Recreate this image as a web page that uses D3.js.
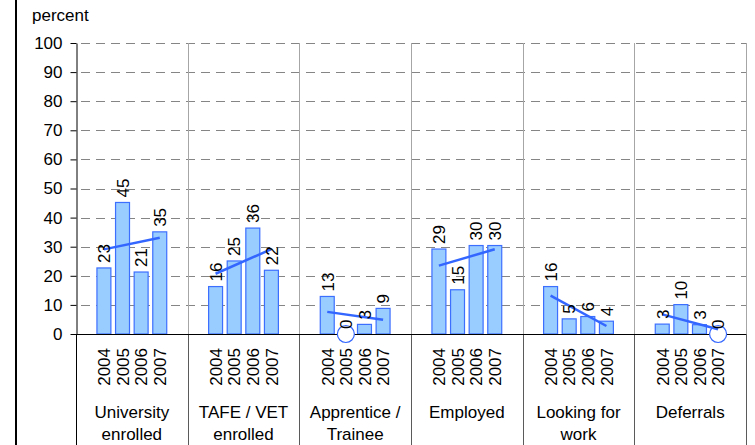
<!DOCTYPE html>
<html>
<head>
<meta charset="utf-8">
<script src="https://cdn.jsdelivr.net/npm/d3@7/dist/d3.min.js"></script>
<style>
  html, body { margin: 0; padding: 0; background: #fff; }
  svg { display: block; font-family: "Liberation Sans", Arial, sans-serif; }
</style>
</head>
<body>
<svg id="chart" width="755" height="445"></svg>
<script>
// Destinations of school leavers, share (%) by year
const groupLabels = [
  ["University", "enrolled"],
  ["TAFE / VET", "enrolled"],
  ["Apprentice /", "Trainee"],
  ["Employed"],
  ["Looking for", "work"],
  ["Deferrals"]
];
const years = ["2004", "2005", "2006", "2007"];

const university = [22.7, 45.2, 21.3, 35.1];
const tafeVet    = [16.3, 25.1, 36.4, 21.9];
const apprentice = [12.9, 0,    3.3,  8.8];
const employed   = [29.2, 15.2, 30.4, 30.4];
const looking    = [16.3, 5.2,  6.0,  4.4];
const deferrals  = [3.4,  10.1, 3.2,  0];
const seriesByGroup = [university, tafeVet, apprentice, employed, looking, deferrals];

const yTicks = [0, 10, 20, 30, 40, 50, 60, 70, 80, 90, 100];

const W = 755, H = 445;
const plotLeft = 76, plotRight = 746, plotTop = 43, plotBase = 334;
const FONT = 17;
const barFill = "#99ccff", barStroke = "#3d6fff", trendColor = "#3366ff";

const svg = d3.select("#chart");
svg.append("rect").attr("width", W).attr("height", H).attr("fill", "#fff");

const groupKeys = groupLabels.map(d => d.join(" "));
const x0 = d3.scaleBand().domain(groupKeys).range([plotLeft, plotRight]).padding(0);
// one empty slot before and after the four years in each group
const x1 = d3.scaleBand().domain(["pre", ...years, "post"]).range([0, x0.bandwidth()]).padding(0);
const barW = x1.bandwidth() * 0.75;
const y = d3.scaleLinear().domain([0, 100]).range([plotBase, plotTop]);

// frame line on the left
svg.append("line").attr("x1", 16).attr("x2", 16).attr("y1", 0).attr("y2", H)
  .attr("stroke", "#000").attr("stroke-width", 2);

// horizontal dashed gridlines
svg.append("g").selectAll("line").data(yTicks.filter(t => t > 0)).join("line")
  .attr("x1", plotLeft).attr("x2", plotRight)
  .attr("y1", d => Math.round(y(d)) + 0.5).attr("y2", d => Math.round(y(d)) + 0.5)
  .attr("stroke", "#858585").attr("stroke-width", 1)
  .attr("stroke-dasharray", "9,6").attr("stroke-dashoffset", -5);

// vertical group separators inside the plot
const bounds = groupKeys.map(k => x0(k)).concat([plotRight]);
svg.append("g").selectAll("line").data(bounds.slice(1)).join("line")
  .attr("x1", d => Math.round(d) + 0.5).attr("x2", d => Math.round(d) + 0.5)
  .attr("y1", plotTop).attr("y2", plotBase)
  .attr("stroke", "#a6a6a6").attr("stroke-width", 1);

// separators below the category axis
svg.append("g").selectAll("line").data(bounds).join("line")
  .attr("x1", d => Math.round(d) + 0.5).attr("x2", d => Math.round(d) + 0.5)
  .attr("y1", plotBase).attr("y2", H)
  .attr("stroke", (d, i) => i === 0 ? "#000" : "#5a5a5a").attr("stroke-width", 1);

// y axis
const yAxis = svg.append("g").attr("transform", `translate(${plotLeft + 0.5},0)`)
  .call(d3.axisLeft(y).tickValues(yTicks).tickSize(6).tickSizeOuter(0).tickPadding(8));
yAxis.select(".domain").attr("stroke", "#000");
yAxis.selectAll(".tick line").attr("stroke", "#000");
yAxis.selectAll(".tick text")
  .attr("font-size", FONT).attr("font-family", "Liberation Sans, Arial, sans-serif")
  .attr("fill", "#000");

// unit label
svg.append("text").attr("x", 32).attr("y", 21).attr("font-size", FONT).attr("fill", "#000")
  .text("percent");

// rows of bar data
const rows = [];
groupKeys.forEach((g, gi) => {
  years.forEach((yr, yi) => {
    rows.push({ g, gi, yr, yi, v: seriesByGroup[gi][yi], cx: x0(g) + x1(yr) + x1.bandwidth() / 2 });
  });
});

// bars
svg.append("g").selectAll("rect").data(rows.filter(d => d.v > 0)).join("rect")
  .attr("x", d => d.cx - barW / 2)
  .attr("y", d => y(d.v))
  .attr("width", barW)
  .attr("height", d => plotBase - y(d.v))
  .attr("fill", barFill).attr("stroke", barStroke).attr("stroke-width", 1.2);

// category axis line
svg.append("line").attr("x1", plotLeft).attr("x2", plotRight)
  .attr("y1", plotBase + 0.5).attr("y2", plotBase + 0.5)
  .attr("stroke", "#000").attr("stroke-width", 1);

// circles marking zero values
svg.append("g").selectAll("circle").data(rows.filter(d => d.v === 0)).join("circle")
  .attr("cx", d => d.cx).attr("cy", plotBase).attr("r", 8.5)
  .attr("fill", "#fff").attr("stroke", "#3366ff").attr("stroke-width", 1.2);

// linear trend line per group (least squares over the four years)
function fit(vals) {
  const n = vals.length, xs = d3.range(n);
  const mx = d3.mean(xs), my = d3.mean(vals);
  const slope = d3.sum(xs, (xv, i) => (xv - mx) * (vals[i] - my)) / d3.sum(xs, xv => (xv - mx) ** 2);
  return xs.map(xv => my + slope * (xv - mx));
}
svg.append("g").selectAll("line").data(groupKeys).join("line")
  .each(function (g, gi) {
    const f = fit(seriesByGroup[gi]);
    d3.select(this)
      .attr("x1", x0(g) + x1(years[0]) + x1.bandwidth() / 2)
      .attr("y1", y(f[0]))
      .attr("x2", x0(g) + x1(years[years.length - 1]) + x1.bandwidth() / 2)
      .attr("y2", y(f[f.length - 1]));
  })
  .attr("stroke", trendColor).attr("stroke-width", 2.5);

// value labels, rotated
svg.append("g").selectAll("text").data(rows).join("text")
  .attr("transform", d => `translate(${d.cx + 6.3},${y(d.v) - 5}) rotate(-90)`)
  .attr("text-anchor", "start")
  .attr("font-size", FONT).attr("fill", "#000")
  .text(d => d3.format(".0f")(d.v));

// year labels, rotated
svg.append("g").selectAll("text").data(rows).join("text")
  .attr("transform", d => `translate(${d.cx + 6.3},${plotBase + 14}) rotate(-90)`)
  .attr("text-anchor", "end")
  .attr("font-size", FONT).attr("fill", "#000")
  .text(d => d.yr);

// group labels
const gl = svg.append("g").selectAll("text").data(groupLabels).join("text")
  .attr("text-anchor", "middle").attr("font-size", FONT).attr("fill", "#000")
  .attr("x", (d, i) => x0(groupKeys[i]) + x0.bandwidth() / 2)
  .attr("y", 418);
gl.selectAll("tspan").data(d => d).join("tspan")
  .attr("x", function () { return d3.select(this.parentNode).attr("x"); })
  .attr("dy", (d, i) => i === 0 ? 0 : 21.5)
  .text(d => d);
</script>
</body>
</html>
